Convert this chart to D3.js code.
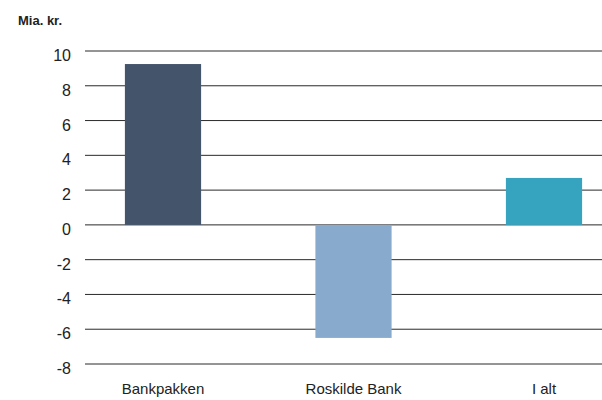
<!DOCTYPE html>
<html>
<head>
<meta charset="utf-8">
<script src="https://cdn.jsdelivr.net/npm/d3@7"></script>
<style>
  body { margin: 0; background: #fff; }
  text { font-family: "Liberation Sans", Arial, sans-serif; fill: #222; }
</style>
</head>
<body>
<div id="chart"></div>
<script>
const categories = ["Bankpakken", "Roskilde Bank", "I alt"];
const values = [9.25, -6.5, 2.7];
const barColors = ["#43546b", "#88abcd", "#36a4bf"];
const yTicks = [10, 8, 6, 4, 2, 0, -2, -4, -6, -8];

const svg = d3.select("#chart").append("svg")
  .attr("width", 602)
  .attr("height", 400);

const x = d3.scaleBand()
  .domain(categories)
  .range([67.75, 639.25])
  .paddingInner(0.6)
  .paddingOuter(0.3);

const y = d3.scaleLinear()
  .domain([-8, 10])
  .range([364, 51]);

// gridlines
svg.append("g")
  .selectAll("line")
  .data(yTicks)
  .enter().append("line")
  .attr("x1", 85)
  .attr("x2", 602)
  .attr("y1", d => y(d))
  .attr("y2", d => y(d))
  .style("stroke", "#2a2a2a")
  .style("stroke-width", 1);

// y tick labels (sit slightly below their gridline)
svg.append("g")
  .selectAll("text")
  .data(yTicks)
  .enter().append("text")
  .attr("x", 71)
  .attr("y", d => y(d) + 10)
  .style("text-anchor", "end")
  .style("font-size", "16px")
  .text(d => d);

// bars
svg.append("g")
  .selectAll("rect")
  .data(values)
  .enter().append("rect")
  .attr("x", (d, i) => x(categories[i]))
  .attr("width", x.bandwidth())
  .attr("y", d => y(Math.max(0, d)))
  .attr("height", d => Math.abs(y(d) - y(0)))
  .style("fill", (d, i) => barColors[i]);

// category labels
svg.append("g")
  .selectAll("text")
  .data(categories)
  .enter().append("text")
  .attr("x", d => x(d) + x.bandwidth() / 2)
  .attr("y", 394)
  .style("text-anchor", "middle")
  .style("font-size", "15px")
  .text(d => d);

svg.append("text")
  .attr("x", 18)
  .attr("y", 25)
  .style("font-size", "13px")
  .style("font-weight", "bold")
  .text("Mia. kr.");
</script>
</body>
</html>
